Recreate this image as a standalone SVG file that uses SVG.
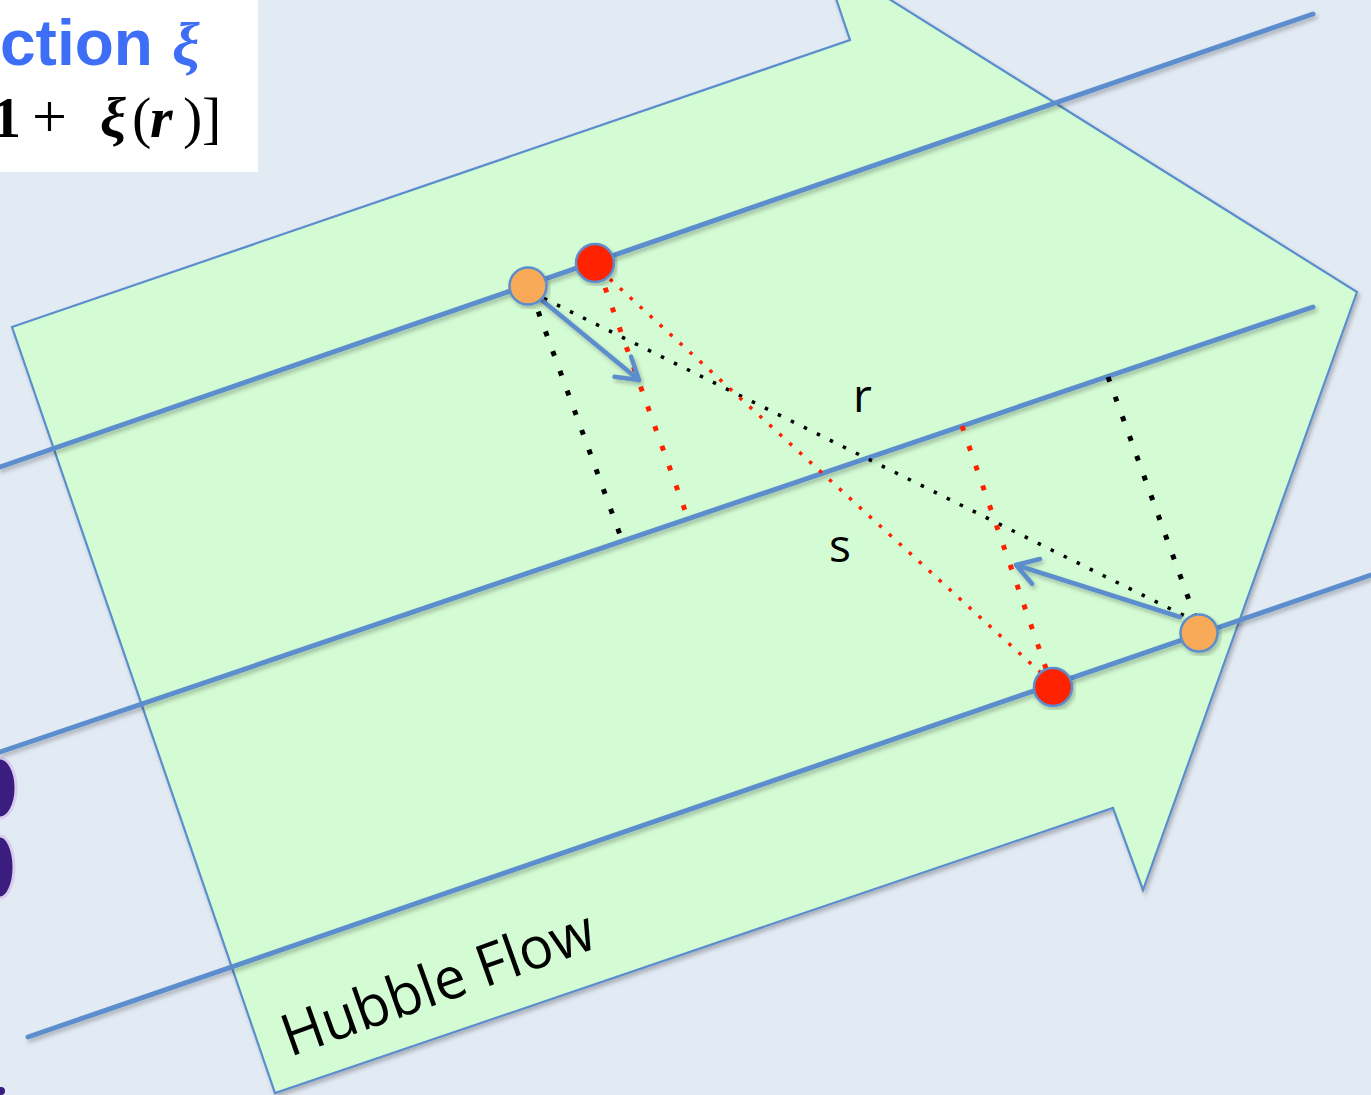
<svg xmlns="http://www.w3.org/2000/svg" width="1371" height="1095" viewBox="0 0 1371 1095">
<style>
.bl{stroke:#5b8dcc;stroke-width:5;fill:none;stroke-linecap:round}
.dk{stroke:#000;stroke-width:5;stroke-dasharray:5 16;fill:none}
.ds{stroke:#000;stroke-width:3.5;stroke-dasharray:3.5 11;fill:none}
.rk{stroke:#ff2200;stroke-width:5;stroke-dasharray:5 16;fill:none}
.rs{stroke:#ff2200;stroke-width:3.5;stroke-dasharray:3.5 10;fill:none}
.ar{stroke:#5b8dcc;stroke-width:4.5;fill:none;stroke-linecap:round}
.lbl{font-family:"Open Sans","Liberation Sans",sans-serif;fill:#000}
.dot{stroke:#5b8dcc;stroke-width:2.5}
</style>
<defs>
<filter id="sh" x="-10%" y="-10%" width="120%" height="120%">
<feDropShadow dx="2" dy="3" stdDeviation="2" flood-color="#000" flood-opacity="0.25"/>
</filter>
<marker id="ah" viewBox="-26 -16 30 32" refX="0" refY="0" markerWidth="30" markerHeight="32" markerUnits="userSpaceOnUse" orient="auto">
<path d="M -21,-13 L 0,0 L -21,13" fill="none" stroke="#5b8dcc" stroke-width="4.5" stroke-linecap="round" stroke-linejoin="round"/>
</marker>
</defs>
<rect width="1371" height="1095" fill="#e2eaf4"/>
<g id="legend">
<rect x="0" y="0" width="258" height="172" fill="#ffffff"/>
<text x="0" y="65" font-family="'Liberation Sans',Arial,sans-serif" font-weight="bold" font-size="64" fill="#3d6ef5">ction<tspan x="172" font-family="'Liberation Serif',serif" font-style="italic" font-weight="bold" font-size="62">ξ</tspan></text>
<text y="137" font-family="'Liberation Serif','DejaVu Serif',serif" font-size="58" fill="#000"><tspan x="-8" font-weight="bold">1</tspan><tspan x="32" font-size="62">+</tspan><tspan x="100" font-weight="bold" font-style="italic">ξ</tspan><tspan x="132">(</tspan><tspan x="150" font-weight="bold" font-style="italic">r</tspan><tspan x="183">)</tspan><tspan x="202">]</tspan></text>
</g>
<g id="blobs">
<ellipse cx="0" cy="788" rx="16" ry="30" fill="#3b1d80" stroke="#d9cdee" stroke-width="3"/>
<ellipse cx="0" cy="867" rx="14" ry="31" fill="#3b1d80" stroke="#d9cdee" stroke-width="3"/>
<circle cx="1" cy="1091" r="4" fill="#3b1d80"/>
</g>
<g id="hubble-flow-arrow">
<polygon points="12,327 850,40 822,-43 1357,292 1143,890 1113,808 275,1093" fill="#d4fcd4" stroke="#5b8dcc" stroke-width="2.2" filter="url(#sh)"/>
<text class="lbl" transform="translate(290,1057) rotate(-19.6)" font-size="58" textLength="328" lengthAdjust="spacingAndGlyphs">Hubble Flow</text>
</g>
<g id="connectors">
<g filter="url(#sh)">
<line class="bl" x1="0" y1="467" x2="1313" y2="14"/>
<line class="bl" x1="0" y1="752" x2="1313" y2="307"/>
<line class="bl" x1="28" y1="1037" x2="1371" y2="575"/>
</g>
<line class="dk" x1="531" y1="292" x2="622" y2="540"/>
<line class="dk" x1="1108" y1="377" x2="1197" y2="622"/>
<line class="ds" x1="531" y1="292" x2="1197" y2="622"/>
<line class="rk" x1="598" y1="268" x2="687" y2="516"/>
<line class="rk" x1="962" y1="426" x2="1050" y2="680"/>
<line class="rs" x1="600" y1="270" x2="1040" y2="672"/>
<g filter="url(#sh)">
<line class="ar" x1="532" y1="292" x2="639" y2="380" marker-end="url(#ah)"/>
<line class="ar" x1="1180" y1="617" x2="1016" y2="565" marker-end="url(#ah)"/>
</g>
</g>
<g id="galaxy-o1"><circle class="dot" cx="528" cy="286" r="18.5" fill="#f9aa58" filter="url(#sh)"/></g>
<g id="galaxy-r1"><circle class="dot" cx="595" cy="263" r="19" fill="#ff2200" filter="url(#sh)"/></g>
<g id="galaxy-o2"><circle class="dot" cx="1199" cy="633" r="18.5" fill="#f9aa58" filter="url(#sh)"/></g>
<g id="galaxy-r2"><circle class="dot" cx="1053" cy="687" r="19" fill="#ff2200" filter="url(#sh)"/></g>
<g id="labels">
<text class="lbl" x="853" y="412" font-size="46">r</text>
<text class="lbl" x="829" y="562" font-size="46">s</text>
</g>
</svg>
